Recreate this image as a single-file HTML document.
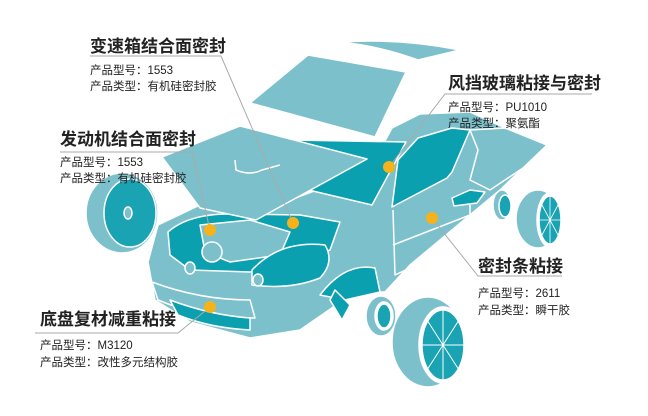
<!DOCTYPE html>
<html><head><meta charset="utf-8"><style>
html,body{margin:0;padding:0;background:#fff;}
svg{display:block}
text{font-family:"Liberation Sans","Noto Sans CJK SC",sans-serif;fill:#222}
.t{font-size:17px;font-weight:bold}
.s{font-size:11.5px}
</style></head><body>
<svg width="648" height="416" viewBox="0 0 648 416" xmlns="http://www.w3.org/2000/svg">
<g stroke="#fff" stroke-width="1.5" stroke-linejoin="round">
<!-- roof strip -->
<path d="M340,42 Q400,38 460,50 L418,60 Q380,46 340,42Z" fill="#7cc0cb"/>
<!-- rear wheel left -->
<ellipse cx="122" cy="213" rx="36" ry="40" fill="#7cc0cb"/>
<ellipse cx="130" cy="213" rx="26" ry="34" fill="#1aa3b3"/>
<ellipse cx="128" cy="213" rx="4" ry="6" fill="#7cc0cb"/>
<!-- right rear wheels -->
<ellipse cx="538" cy="219" rx="22" ry="29" fill="#7cc0cb"/>
<ellipse cx="550" cy="220" rx="13" ry="27" fill="#fff"/>
<ellipse cx="550" cy="220" rx="11" ry="24" fill="#1aa3b3"/>
<path d="M550,196 L550,244 M539,220 L561,220 M542,205 L558,235 M558,205 L542,235" stroke-width="0.8" fill="none"/>
<ellipse cx="502" cy="205" rx="9" ry="15" fill="#7cc0cb"/>
<ellipse cx="505" cy="206" rx="6" ry="11" fill="#1aa3b3"/>
<!-- car body -->
<path d="M148,262 L158,225 L200,205 L290,200 L330,185 L380,150 L392,128 L420,114 L470,112 L505,128 L547,145 L523,168 L500,190 L470,215 L440,240 L410,265 L385,292 L355,292 L300,330 L250,338 L190,322 L155,300Z" fill="#7cc0cb"/>
<!-- windshield -->
<path d="M292,140 L406,142 L372,205 L300,188Z" fill="#0aa0b0"/>
<!-- side window -->
<path d="M392,207 L398,160 L418,138 L452,128 L470,130 L452,172 L447,178Z" fill="#0aa0b0"/>
<path d="M470,130 L505,128 L547,145 L523,168 L490,190 L470,180 L478,150Z" fill="#7cc0cb"/>
<!-- mirror -->
<path d="M452,198 L470,190 L485,192 L477,203 L454,206Z" fill="#0aa0b0"/>
<!-- door lines -->
<path d="M393,210 L395,275 L470,240 L470,205 M393,245 L470,215" fill="none"/>
<!-- engine bay -->
<path d="M168,232 Q190,212 240,214 L300,215 L340,222 L330,250 L300,262 L250,272 L190,270 L170,255Z" fill="#0aa0b0"/>
<path d="M200,225 L250,220 L290,232 L280,255 L230,262 L205,252Z" fill="#7cc0cb"/>
<circle cx="212" cy="252" r="10" fill="#7cc0cb"/>
<path d="M252,270 Q280,240 325,245 Q335,262 320,278 Q290,290 252,285Z" fill="#0aa0b0"/>
<ellipse cx="190" cy="268" rx="5" ry="6" fill="#7cc0cb"/>
<ellipse cx="258" cy="280" rx="5" ry="6" fill="#7cc0cb"/>
<!-- front right wheel arch -->
<path d="M320,295 Q345,262 375,268 L380,292 L345,300Z" fill="#0aa0b0"/>
<!-- bumper -->
<path d="M152,282 Q200,300 250,300 L255,318 Q200,318 158,300Z" fill="#7cc0cb"/>
<path d="M170,300 Q210,315 250,318 L250,330 Q210,328 178,315Z" fill="#0aa0b0"/>
<!-- suspension -->
<path d="M335,290 L350,305 L342,320 L330,300Z" fill="#0aa0b0"/>
<!-- front hood -->
<path d="M162,157 L240,126 L367,159 L256,220 L200,208Z" fill="#7cc0cb"/>
<path d="M235,160 L236,170 Q250,176 262,170 L280,165" fill="none"/>
<!-- hatch -->
<path d="M250,103 L308,55 L406,72 L375,137Z" fill="#7cc0cb"/>
<!-- front small wheel -->
<ellipse cx="381" cy="316" rx="15" ry="20" fill="#7cc0cb"/>
<ellipse cx="384" cy="316" rx="9" ry="14" fill="#fff"/>
<ellipse cx="384" cy="316" rx="7" ry="12" fill="#1aa3b3"/>
<!-- big front wheel -->
<ellipse cx="428" cy="342" rx="36" ry="45" fill="#7cc0cb"/>
<ellipse cx="443" cy="345" rx="24" ry="38" fill="#fff"/>
<ellipse cx="443" cy="345" rx="21" ry="35" fill="#1aa3b3"/>
<path d="M443,310 L443,380 M422,345 L464,345 M427,320 L459,370 M459,320 L427,370" stroke-width="1" fill="none"/>
</g>
<!-- leaders -->
<g stroke="#aaa" stroke-width="1" fill="none">
<path d="M90,56 L221,56 L293,223"/>
<path d="M592,94 L445,94 L389,167"/>
<path d="M60,152 L192,152 L210,230"/>
<path d="M562,276 L478,276 L432,218"/>
<path d="M35,333 L178,333 L210,307"/>
</g>
<g fill="#f5b21a">
<circle cx="293" cy="223" r="6"/><circle cx="389" cy="167" r="6"/><circle cx="210" cy="230" r="6"/>
<circle cx="432" cy="218" r="6"/><circle cx="210" cy="307" r="6"/>
</g>
<text class="t" x="90" y="52">变速箱结合面密封</text>
<text class="s" x="90" y="74">产品型号：1553</text>
<text class="s" x="90" y="90">产品类型：有机硅密封胶</text>
<text class="t" x="448" y="89">风挡玻璃粘接与密封</text>
<text class="s" x="448" y="111">产品型号：PU1010</text>
<text class="s" x="448" y="127">产品类型：聚氨酯</text>
<text class="t" x="60" y="145">发动机结合面密封</text>
<text class="s" x="60" y="166">产品型号：1553</text>
<text class="s" x="60" y="182">产品类型：有机硅密封胶</text>
<text class="t" x="478" y="272">密封条粘接</text>
<text class="s" x="478" y="297">产品型号：2611</text>
<text class="s" x="478" y="314">产品类型：瞬干胶</text>
<text class="t" x="40" y="325">底盘复材减重粘接</text>
<text class="s" x="40" y="349">产品型号：M3120</text>
<text class="s" x="40" y="366">产品类型：改性多元结构胶</text>
</svg>
</body></html>
